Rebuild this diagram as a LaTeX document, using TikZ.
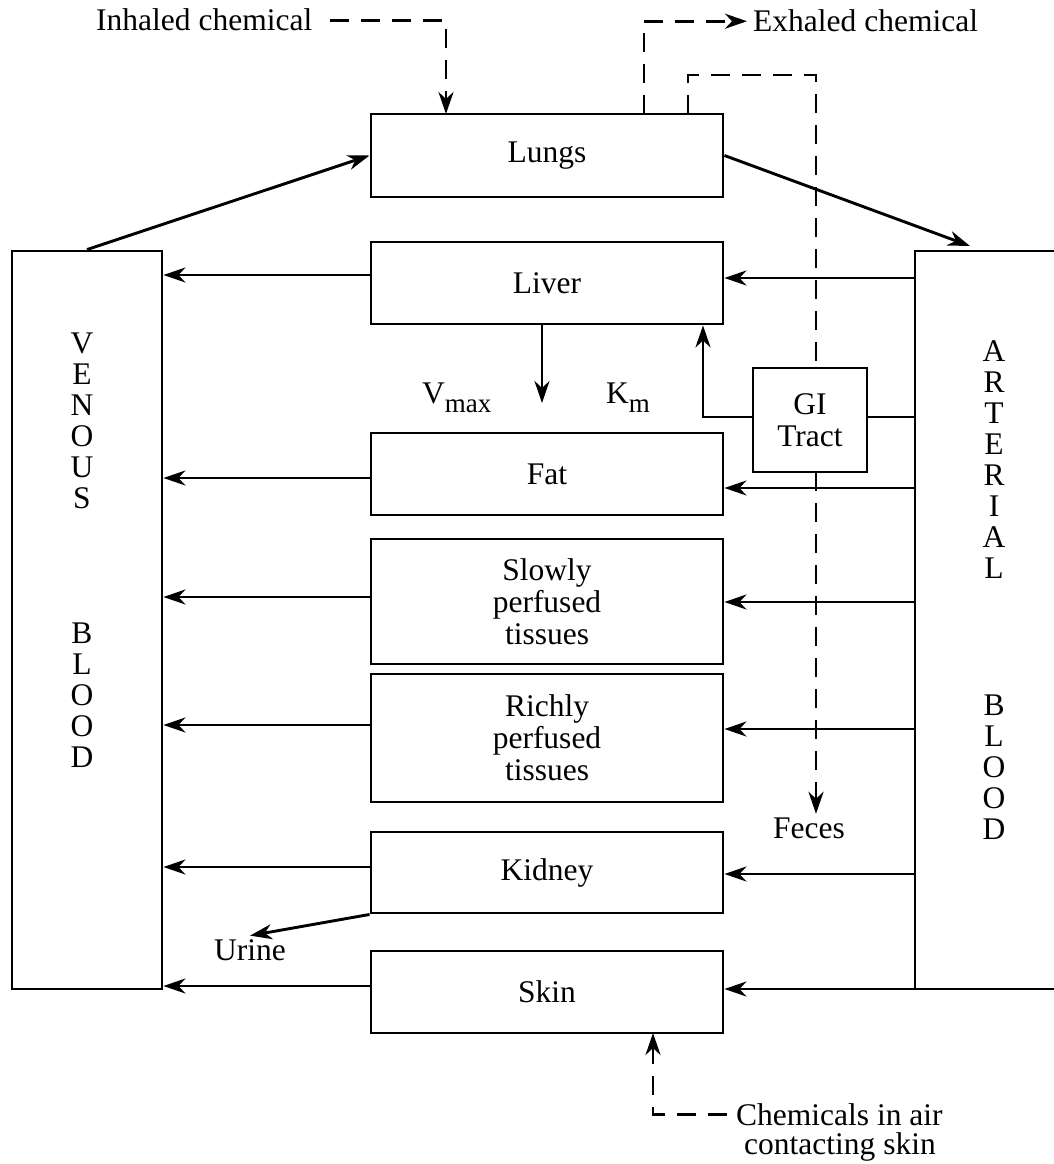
\documentclass[tikz,border=0pt]{standalone}
\usepackage{fontspec}
\setmainfont{Liberation Serif}
\usetikzlibrary{arrows.meta}
\begin{document}
\begin{tikzpicture}[x=1pt,y=-1pt,
  every node/.style={font=\fontsize{31.5}{32}\selectfont},
  box/.style={draw, line width=2.9pt, rectangle, inner sep=0pt, align=center, minimum width=352pt},
  letters/.style={align=center, inner sep=0pt, font=\fontsize{31.5}{31}\selectfont},
  ln/.style={line width=2.9pt},
  tip/.style={-{Stealth[length=22pt,width=15pt,inset=7pt]}},
  arr/.style={ln, tip},
  dsh/.style={ln, dash pattern=on 19pt off 12pt},
  darr/.style={dsh, tip}
]
\path[use as bounding box, clip] (0,0) rectangle (1054,1164);

% organ boxes
\node[box, minimum height=83pt] (lungs) at (547,155.5) {Lungs};
\node[box, minimum height=82pt] (liver) at (547,283) {Liver};
\node[box, minimum height=82pt] (fat) at (547,474) {Fat};
\node[box, minimum height=125pt] (slow) at (547,601.5) {Slowly\\perfused\\tissues};
\node[box, minimum height=128pt] (rich) at (547,738) {Richly\\perfused\\tissues};
\node[box, minimum height=81pt] (kidney) at (547,872.5) {Kidney};
\node[box, minimum height=82pt] (skin) at (547,992) {Skin};

% blood compartments
\node[draw, line width=2.9pt, inner sep=0pt, minimum width=150pt, minimum height=738pt] (ven) at (87,620) {};
\node[letters] at (82,421) {V\\E\\N\\O\\U\\S};
\node[letters] at (82,695) {B\\L\\O\\O\\D};
\node[draw, line width=2.9pt, inner sep=0pt, minimum width=170pt, minimum height=738pt] (art) at (1000,620) {};
\node[letters] at (994,459.5) {A\\R\\T\\E\\R\\I\\A\\L};
\node[letters] at (994,767) {B\\L\\O\\O\\D};

% GI tract
\node[draw, line width=2.9pt, inner sep=0pt, minimum width=114pt, minimum height=104pt, align=center] (gi) at (810,420) {GI\\Tract};

% labels
\node[anchor=base west, inner sep=0pt] (inh) at (96,31) {Inhaled chemical};
\node[anchor=base west, inner sep=0pt] (exh) at (753,32) {Exhaled chemical};
\node[anchor=base] (feces) at (809,838) {Feces};
\node[anchor=base] (urine) at (250,960) {Urine};
\node[anchor=base west, inner sep=0pt] (vmax) at (422,403) {V\raisebox{-9pt}{\fontsize{27}{27}\selectfont max}};
\node[anchor=base west, inner sep=0pt] (km) at (606,403) {K\raisebox{-9pt}{\fontsize{27}{27}\selectfont m}};
\node[anchor=base west, inner sep=0pt] (chem) at (736,1125) {Chemicals in air};
\node[anchor=base, inner sep=0pt] (chem2) at (840,1154) {contacting skin};

% helper coordinates
\coordinate (lin) at (446,114);
\coordinate (lout1) at (644,114);
\coordinate (lout2) at (688,114);
\coordinate (bend) at (816,75);
\coordinate (gtop) at (816,368);
\coordinate (gbot) at (816,472);
\coordinate (skinin) at (653,1033);
\coordinate (artin) at (970,246);
\coordinate (vtop) at (542,324);
\coordinate (vtip) at (542,403);
\coordinate (gil) at (703,417);

% venous side levels
\coordinate (v1) at (0,275);
\coordinate (v2) at (0,478);
\coordinate (v3) at (0,597);
\coordinate (v4) at (0,725);
\coordinate (v5) at (0,867);
\coordinate (v6) at (0,986);
% arterial side levels
\coordinate (a1) at (0,278);
\coordinate (a2) at (0,488);
\coordinate (a3) at (0,602);
\coordinate (a4) at (0,729);
\coordinate (a5) at (0,874);
\coordinate (a6) at (0,989);
\coordinate (g0) at (0,417);

% lungs connections
\draw[arr] (ven.north) -- (lungs.west);
\draw[arr] (lungs.east) -- (artin);

% organs to venous blood
\draw[arr] (liver.west |- v1) -- (ven.east |- v1);
\draw[arr] (fat.west |- v2) -- (ven.east |- v2);
\draw[arr] (slow.west |- v3) -- (ven.east |- v3);
\draw[arr] (rich.west |- v4) -- (ven.east |- v4);
\draw[arr] (kidney.west |- v5) -- (ven.east |- v5);
\draw[arr] (skin.west |- v6) -- (ven.east |- v6);

% arterial blood to organs
\draw[arr] (art.west |- a1) -- (liver.east |- a1);
\draw[arr] (art.west |- a2) -- (fat.east |- a2);
\draw[arr] (art.west |- a3) -- (slow.east |- a3);
\draw[arr] (art.west |- a4) -- (rich.east |- a4);
\draw[arr] (art.west |- a5) -- (kidney.east |- a5);
\draw[arr] (art.west |- a6) -- (skin.east |- a6);

% GI tract
\draw[ln] (art.west |- g0) -- (gi.east |- g0);
\draw[arr] (gi.west |- g0) -- (gil) -- (liver.south -| gil);

% metabolism
\draw[arr] (vtop) -- (vtip);

% urine
\draw[arr] (kidney.south west) -- (urine.north);

% dashed routes
\draw[darr] ([xshift=18pt]inh.east) -| (lin);
\draw[darr] (lout1) |- ([xshift=-6pt]exh.west);
\draw[dsh] (lout2) |- (bend) -- (gtop);
\draw[darr] (gbot) -- (gbot |- feces.north);
\draw[darr] ([xshift=-9pt]chem.west) -| (skinin);
\end{tikzpicture}
\end{document}
